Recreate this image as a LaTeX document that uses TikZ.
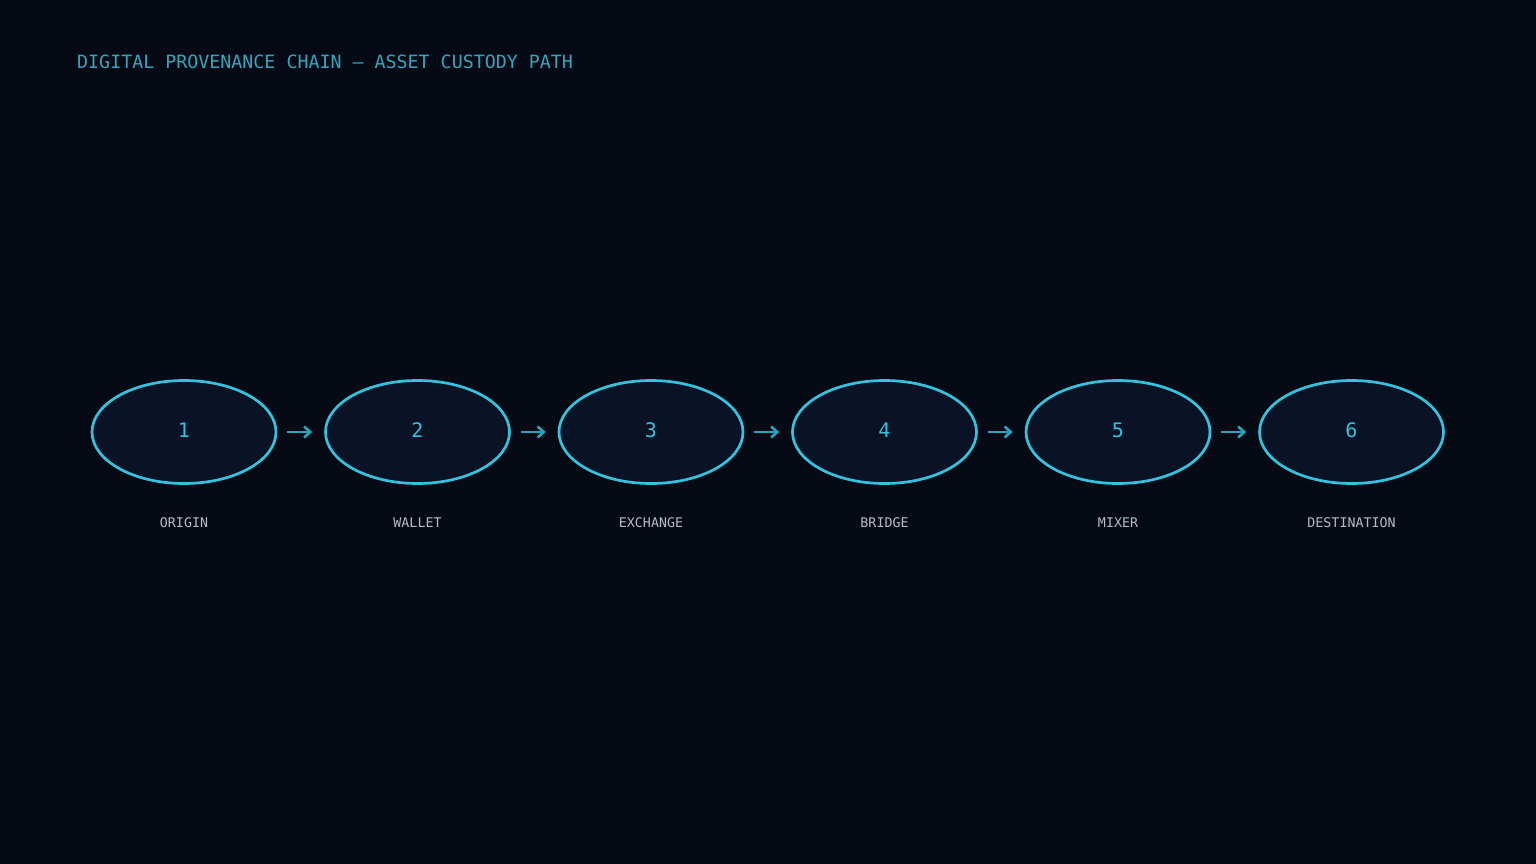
\documentclass[tikz,border=0pt]{standalone}
\usepackage{fontspec}
\setmonofont{DejaVu Sans Mono}
\usetikzlibrary{shapes.geometric,arrows.meta}
\definecolor{bg}{HTML}{050A14}
\definecolor{nodefill}{HTML}{0A1226}
\definecolor{stroke}{HTML}{35C2DE}
\definecolor{arrowc}{HTML}{2AA3BC}
\definecolor{titlec}{HTML}{3AA3BC}
\definecolor{labelc}{HTML}{B4BCC6}
\tikzset{
  stage/.style={ellipse, draw=stroke, line width=2.7pt, fill=nodefill,
    minimum width=184pt, minimum height=103pt, inner sep=0pt,
    text=stroke, font=\ttfamily\fontsize{20}{24}\selectfont},
  stagelabel/.style={text=labelc, font=\ttfamily\fontsize{13.3}{16}\selectfont, inner sep=0pt},
  link/.style={draw=arrowc, line width=2.7pt, -{Straight Barb[length=6pt,width=11pt,line width=2.7pt]}},
}
\begin{document}
\begin{tikzpicture}[x=1pt,y=-1pt]
\fill[bg] (0,0) rectangle (1536,864);
\useasboundingbox (0,0) rectangle (1536,864);
\node[anchor=base west, text=titlec, font=\ttfamily\fontsize{18.3}{22}\selectfont, inner sep=0pt] (title) at (77,69) {DIGITAL PROVENANCE CHAIN — ASSET CUSTODY PATH};
\foreach \i/\x/\lab in {1/184/ORIGIN,2/417.5/WALLET,3/651/EXCHANGE,4/884.5/BRIDGE,5/1118/MIXER,6/1351.5/DESTINATION}{
  \node[stage] (n\i) at (\x,432) {};
  \node[text=stroke, font=\ttfamily\fontsize{20}{24}\selectfont, inner sep=0pt, anchor=base] (t\i) at (\x,437.5) {\i};
  \node[stagelabel, anchor=base] (l\i) at (\x,527) {\lab};
}
\foreach \a/\b in {1/2,2/3,3/4,4/5,5/6}{
  \draw[link] ([xshift=10pt]n\a.east) -- ([xshift=-12pt]n\b.west);
}
\end{tikzpicture}
\end{document}
